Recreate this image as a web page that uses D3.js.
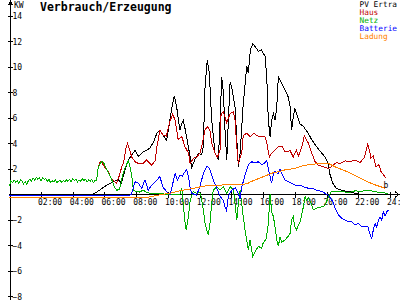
<!DOCTYPE html>
<html>
<head>
<meta charset="utf-8">
<script src="https://cdn.jsdelivr.net/npm/d3@7"></script>
<style>
body { margin: 0; background: #fff; }
svg { display: block; }
text { font-family: "DejaVu Sans Mono", monospace; }
</style>
</head>
<body>
<div class="graph"></div>
<script>
// legend / series names and colours
var seriesNames = ["PV Ertra", "Haus", "Netz", "Batterie", "Ladung"];
var seriesColors = ["#000000", "#c00000", "#00b000", "#0000ff", "#ff8000"];

// axis ticks
var xTicks = [2, 4, 6, 8, 10, 12, 14, 16, 18, 20, 22, 24];
var xTickLabels = ["02:00", "04:00", "06:00", "08:00", "10:00", "12:00", "14:00", "16:00", "18:00", "20:00", "22:00", "24:00"];
var yTicks = [-8, -6, -4, -2, 2, 4, 6, 8, 10, 12, 14];

// night load [hour, kW] - house is fed by the grid, so Haus == Netz here
var nachtLast = [[0,0.6],[0.1,1.05],[0.2,0.9],[0.3,1.1],[0.4,0.95],[0.5,1.05],[0.6,0.85],[0.7,1.1],[0.8,1.0],[0.9,0.8],
  [1.0,0.95],[1.1,0.75],[1.2,1.05],[1.3,1.15],[1.4,1.0],[1.5,1.25],[1.6,1.1],[1.7,1.3],[1.8,1.15],[1.9,1.25],
  [2.0,1.05],[2.1,1.3],[2.2,1.15],[2.3,1.2],[2.4,1.0],[2.5,1.15],[2.6,0.9],[2.7,1.05],[2.8,0.95],[2.9,1.1],
  [3.0,0.9],[3.1,1.0],[3.2,1.1],[3.3,0.9],[3.4,1.05],[3.5,0.95],[3.6,1.1],[3.7,1.0],[3.8,1.15],[3.9,0.95],
  [4.0,1.2],[4.1,1.05],[4.2,1.15],[4.3,0.95],[4.4,1.1],[4.5,1.0],[4.6,1.2],[4.7,1.05],[4.8,1.15],[4.9,0.95],
  [5.0,1.1],[5.1,1.0],[5.2,1.15],[5.3,0.9],[5.4,1.05],[5.5,1.1]];

var pvErtrag = [[0,0],[5.3,0],[5.45,0.1],[5.8,0.4],[6.14,0.7],[6.56,0.96],[6.87,1.1],[7.07,0.86],[7.3,1.9],[7.5,2.67],
  [7.75,3.1],[7.93,3.45],[8.13,2.95],[8.45,3.3],[8.87,3.6],[9.1,4.1],[9.3,4.76],[9.5,5.0],[9.7,4.6],[9.92,4.2],
  [10.1,5.6],[10.24,6.7],[10.4,7.7],[10.55,6.85],[10.66,5.8],[10.76,5.0],[10.85,5.5],[10.97,5.8],[11.1,5.0],[11.25,4.0],
  [11.4,2.9],[11.5,2.1],[11.7,2.7],[11.92,3.2],[12.13,3.06],[12.23,3.7],[12.34,8.4],[12.48,10.5],[12.61,9.47],[12.76,5.8],
  [12.97,3.2],[13.18,2.67],[13.29,5.8],[13.39,9.2],[13.5,7.9],[13.6,5.0],[13.71,2.67],[13.81,5.8],[13.92,8.8],[14.02,8.4],
  [14.23,6.85],[14.44,2.1],[14.55,3.2],[14.75,7.1],[14.97,10.0],[15.07,9.5],[15.2,11.3],[15.35,11.8],[15.5,11.55],[15.7,11.2],
  [15.9,11.3],[16.12,10.8],[16.23,9.2],[16.33,5.8],[16.44,4.5],[16.54,5.8],[16.65,6.3],[16.75,5.8],[16.86,6.8],[16.96,9.2],
  [17.17,8.7],[17.38,8.15],[17.59,7.6],[17.7,6.85],[17.8,5.0],[17.9,6.06],[18.0,6.7],[18.1,6.3],[18.33,5.5],[18.54,5.3],
  [18.85,4.76],[19.07,4.24],[19.38,3.7],[19.7,3.2],[19.9,2.9],[20.1,2.4],[20.2,1.6],[20.4,0.84],[20.6,0.45],[21.0,0.26],
  [21.5,0.18],[21.8,0.05],[22,0],[23.9,0]];

var hausTag = [[5.6,2.0],[5.72,2.53],[5.85,2.45],[6.0,2.1],[6.24,1.75],[6.35,1.4],[6.5,1.1],[6.66,0.96],[6.77,0.84],[6.95,1.5],
  [7.09,2.14],[7.2,2.4],[7.35,3.6],[7.45,3.95],[7.55,3.6],[7.72,2.9],[7.93,2.53],[8.13,2.4],[8.45,2.4],[8.66,2.67],
  [8.98,2.27],[9.2,2.6],[9.3,3.7],[9.5,5.0],[9.7,4.6],[9.9,4.55],[10.1,5.6],[10.3,6.27],[10.45,5.8],[10.65,4.24],
  [10.87,4.5],[11.08,3.7],[11.3,3.2],[11.4,2.4],[11.6,2.8],[11.82,2.9],[12.02,3.2],[12.13,3.7],[12.34,5.0],[12.48,5.3],
  [12.65,5.0],[12.76,3.98],[12.97,3.2],[13.12,2.9],[13.29,3.45],[13.35,6.3],[13.5,6.45],[13.7,5.6],[13.92,6.3],[14.13,6.45],
  [14.23,5.8],[14.34,3.7],[14.44,2.4],[14.65,3.2],[14.75,4.6],[14.97,4.76],[15.18,4.5],[15.4,4.76],[15.6,4.6],[15.8,4.5],
  [16.12,4.5],[16.23,4.0],[16.4,2.9],[16.54,3.2],[16.75,3.45],[16.96,3.7],[17.2,3.7],[17.4,3.3],[17.7,3.4],[17.9,2.9],
  [18.1,3.45],[18.22,2.95],[18.44,3.7],[18.6,4.55],[18.85,4.0],[19.07,3.2],[19.28,2.53],[19.48,2.27],[19.8,2.14],[20.1,2.0],
  [20.3,2.14],[20.6,2.45],[20.85,2.4],[21.17,2.6],[21.5,2.55],[21.85,2.65],[22.1,2.45],[22.4,2.9],[22.6,3.9],[22.7,3.45],
  [22.8,2.8],[22.95,3.0],[23.1,2.14],[23.3,2.3],[23.45,1.7],[23.6,1.5],[23.75,1.23]];

var netzTag = [[5.6,2.0],[5.75,2.45],[5.85,2.55],[5.95,2.45],[6.1,2.0],[6.35,1.4],[6.5,1.0],[6.6,0.6],[6.77,0.3],[6.95,0.35],
  [7.1,1.2],[7.19,1.65],[7.35,2.2],[7.5,2.6],[7.6,2.2],[7.72,1.4],[7.82,0.3],[8.0,0.2],[8.2,0.15],[8.45,0.3],
  [8.7,0.1],[9.0,0.05],[9.5,0.05],[10.0,-0.05],[10.76,0.0],[10.87,0.5],[10.97,-0.9],[11.08,-2.2],[11.15,-2.8],[11.29,-1.8],
  [11.4,-0.5],[11.6,0.2],[11.8,0.05],[12.0,0.15],[12.1,-0.2],[12.23,-1.25],[12.34,-2.3],[12.44,-2.8],[12.55,-3.2],[12.65,-2.3],
  [12.76,-0.73],[12.86,0.3],[13.08,0.57],[13.29,0.3],[13.5,0.57],[13.71,0.05],[13.92,0.57],[14.13,0.3],[14.23,-0.73],[14.34,-2.04],
  [14.44,-0.73],[14.55,0.3],[14.75,-1.78],[14.86,-2.8],[14.97,-3.6],[15.07,-4.4],[15.18,-3.6],[15.28,-4.4],[15.35,-4.9],[15.5,-4.5],
  [15.7,-4.1],[15.9,-4.26],[16.0,-3.86],[16.2,-3.5],[16.33,-2.3],[16.44,0.0],[16.54,-1.4],[16.65,-1.78],[16.75,-2.56],[16.86,-3.6],
  [16.96,-4.1],[17.07,-3.35],[17.17,-3.8],[17.38,-3.6],[17.59,-3.3],[17.7,-3.1],[17.8,-2.04],[17.9,-1.78],[18.0,-2.56],[18.1,-2.8],
  [18.33,-2.2],[18.54,-1.0],[18.65,-0.2],[18.75,-0.5],[18.85,-0.3],[19.07,-0.86],[19.17,-1.25],[19.38,-1.1],[19.7,-1.0],[19.9,-0.9],
  [20.1,-0.3],[20.3,0.18],[21.0,0.2],[21.4,0.1],[21.8,0.25],[22.2,0.2],[22.5,0.3],[22.8,0.25],[23.2,0.15],[23.6,0.1],[23.9,0.0]];

var batterie = [[0,-0.08],[7.6,-0.08],[7.7,0.0],[7.93,0.96],[8.13,0.84],[8.35,0.45],[8.55,1.1],[8.76,0.3],[8.98,0.7],[9.19,0.96],
  [9.4,1.23],[9.5,1.36],[9.67,0.57],[9.92,0.18],[10.13,-0.08],[10.34,1.0],[10.45,1.6],[10.6,1.1],[10.76,1.5],[10.9,1.4],
  [11.08,1.75],[11.18,1.9],[11.29,1.4],[11.4,0.5],[11.5,0.05],[11.8,-0.08],[12.0,0.5],[12.23,1.6],[12.44,2.14],[12.55,2.1],
  [12.65,1.9],[12.86,1.1],[13.07,0.5],[13.29,-0.2],[13.5,-0.5],[13.6,-1.0],[13.7,-1.3],[13.81,-0.2],[14.02,0.3],[14.25,0.5],
  [14.44,0.05],[14.55,-0.4],[14.65,0.5],[14.86,1.5],[15.07,2.3],[15.28,2.53],[15.5,2.45],[15.7,2.53],[15.9,2.3],[16.12,2.45],
  [16.23,2.6],[16.33,2.0],[16.44,1.36],[16.54,0.84],[16.65,1.6],[16.75,1.75],[16.96,1.6],[17.06,1.95],[17.17,1.6],[17.38,1.1],
  [17.59,0.98],[17.8,0.84],[18.0,0.7],[18.33,0.7],[18.54,0.57],[18.85,0.45],[19.07,0.45],[19.38,0.3],[19.7,0.2],[19.9,0.05],
  [20.1,-0.08],[20.4,-0.6],[20.5,-1.0],[20.75,-1.65],[20.96,-1.9],[21.17,-2.04],[21.38,-2.17],[21.59,-2.17],[21.8,-2.43],[22.0,-2.3],
  [22.2,-2.56],[22.4,-2.56],[22.6,-2.56],[22.75,-3.2],[22.85,-3.5],[22.95,-2.8],[23.06,-2.3],[23.16,-2.6],[23.27,-2.04],[23.37,-1.78],
  [23.48,-2.04],[23.58,-1.4],[23.69,-1.7],[23.8,-1.4],[23.9,-1.25]];

var ladung = [[0,-0.3],[8.6,-0.3],[9.3,-0.1],[10.1,0.05],[10.76,0.25],[11.4,0.4],[12.0,0.55],[12.6,0.68],[13.3,0.7],[14.5,0.75],
  [15.0,0.8],[15.2,0.95],[15.7,1.2],[16.1,1.4],[16.6,1.65],[17.0,1.75],[17.4,1.9],[18.0,2.0],[18.6,2.25],[19.6,2.4],
  [20.1,2.4],[20.6,2.1],[21.3,1.75],[21.9,1.4],[22.5,1.0],[23.1,0.7],[23.7,0.45]];

var haus = nachtLast.concat(hausTag);
var netz = nachtLast.concat(netzTag);
var allSeries = [pvErtrag, haus, netz, batterie, ladung];

var width = 400, height = 300;

var svg = d3.select(".graph").append("svg")
  .attr("width", width)
  .attr("height", height);

// scales
var xScale = d3.scaleLinear().domain([0, 24]).range([9.3, 390]);
var yScale = d3.scaleLinear().domain([-8, 14]).range([296, 15.5]);
var y0 = Math.round(yScale(0)) + 0.5;
var x0 = 10.5;

// title
svg.append("text")
  .attr("x", 40).attr("y", 11)
  .attr("font-size", 11.5).attr("font-weight", "bold")
  .text("Verbrauch/Erzeugung");

// unit
svg.append("text")
  .attr("x", 14).attr("y", 8)
  .attr("font-size", 8)
  .text("KW");

// x axis
var xAxis = svg.append("g")
  .attr("transform", "translate(0," + y0 + ")")
  .call(d3.axisBottom(xScale)
    .tickValues(xTicks)
    .tickSize(0)
    .tickFormat(function(d, i) { return xTickLabels[i]; }));
xAxis.select(".domain").remove();
xAxis.selectAll(".tick line")
  .attr("y1", -3).attr("y2", 3)
  .attr("stroke", "#000")
  .attr("shape-rendering", "crispEdges");
xAxis.selectAll(".tick text")
  .attr("y", 10).attr("dy", 0)
  .attr("x", -3.5)
  .attr("text-anchor", "start")
  .attr("font-size", 8)
  .attr("font-family", "DejaVu Sans Mono")
  .attr("fill", "#000");

// y axis
var yAxis = svg.append("g")
  .attr("transform", "translate(" + x0 + ",0)")
  .call(d3.axisLeft(yScale)
    .tickValues(yTicks)
    .tickSize(0));
yAxis.select(".domain").remove();
yAxis.selectAll(".tick line")
  .attr("x1", -2.5).attr("x2", 2.5)
  .attr("stroke", "#000")
  .attr("shape-rendering", "crispEdges");
yAxis.selectAll(".tick text")
  .attr("x", 2).attr("dy", 3)
  .attr("text-anchor", "start")
  .attr("font-size", 8)
  .attr("font-family", "DejaVu Sans Mono")
  .attr("fill", "#000");

// axis lines with arrow heads
svg.append("path")
  .attr("d", "M" + x0 + "," + height + "V1.5")
  .attr("stroke", "#000").attr("fill", "none")
  .attr("shape-rendering", "crispEdges");
svg.append("path")
  .attr("d", "M" + (x0 - 2) + ",5.5L" + x0 + ",1.5L" + (x0 + 2) + ",5.5")
  .attr("stroke", "#000").attr("fill", "none")
  .attr("shape-rendering", "crispEdges");
svg.append("path")
  .attr("d", "M" + x0 + "," + y0 + "H399")
  .attr("stroke", "#000").attr("fill", "none")
  .attr("shape-rendering", "crispEdges");
svg.append("path")
  .attr("d", "M395," + (y0 - 3) + "L399," + y0 + "L395," + (y0 + 3))
  .attr("stroke", "#000").attr("fill", "none")
  .attr("shape-rendering", "crispEdges");

// series lines
var line = d3.line()
  .x(function(d) { return xScale(d[0]); })
  .y(function(d) { return yScale(d[1]); });

svg.selectAll(".serie")
  .data(allSeries)
  .enter()
  .append("path")
  .attr("class", "serie")
  .attr("d", line)
  .attr("fill", "none")
  .attr("stroke", function(d, i) { return seriesColors[i]; })
  .attr("stroke-width", 1)
  .attr("shape-rendering", "crispEdges");

// marker at the end
svg.append("text")
  .attr("x", 383.5).attr("y", 188)
  .attr("font-size", 8)
  .text("b");

// legend
svg.selectAll(".legend")
  .data(seriesNames)
  .enter()
  .append("text")
  .attr("class", "legend")
  .attr("x", 359.5)
  .attr("y", function(d, i) { return 7 + i * 7.9; })
  .attr("font-size", 7.8)
  .attr("fill", function(d, i) { return seriesColors[i]; })
  .text(function(d) { return d; });
</script>
</body>
</html>
